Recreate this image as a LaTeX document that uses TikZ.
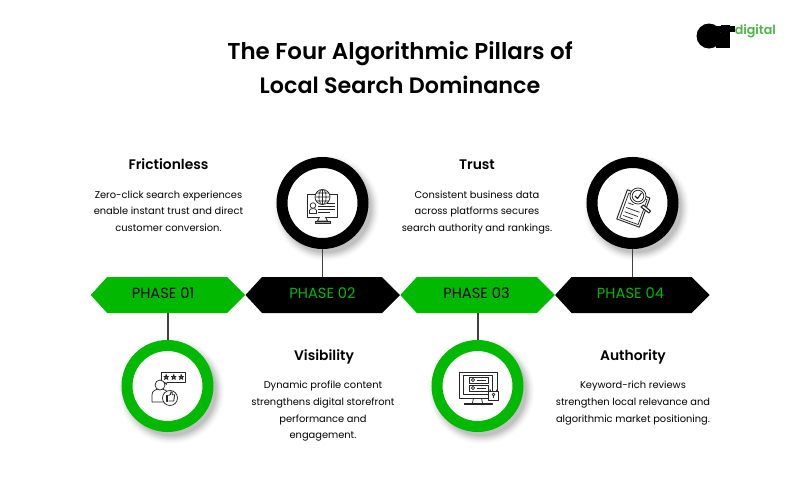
\documentclass[tikz,border=0pt]{standalone}
\usepackage{fontspec}
\setmainfont{Poppins}
\newfontfamily\semi{Poppins SemiBold}
\newfontfamily\med{Poppins Medium}
\usetikzlibrary{calc}
\definecolor{gA}{HTML}{00B900}
\definecolor{gB}{HTML}{4DB848}
\tikzset{
 x=0.75pt,y=-0.75pt,
 phasetxt/.style={font=\fontsize{11pt}{12pt}\selectfont,inner sep=0pt,anchor=center},
 headtxt/.style={font=\semi\fontsize{10.4pt}{12pt}\selectfont,inner sep=0pt,anchor=base},
 bodytxt/.style={font=\fontsize{7.4pt}{12.5pt}\selectfont,align=center,inner sep=0pt,anchor=north},
 titletxt/.style={font=\semi\fontsize{17.2pt}{25pt}\selectfont,inner sep=0pt,anchor=center},
 stem/.style={draw=black!75,line width=1.4pt},
 ico/.style={draw=black!85,line width=0.55pt,fill=white,line join=round},
 icl/.style={draw=black!85,line width=0.55pt,line join=round},
 ring/.style={circle,minimum size=0.75pt*81,line width=0.75pt*11,fill=white,inner sep=0pt}
}
\newcommand{\softshadow}[1]{%
 \foreach \r/\o in {53/.012,52/.015,51/.02,50/.025,49/.03,48/.03,47/.035,46/.04,45/.05}{
  \fill[black,opacity=\o] ($(#1)+(4,5)$) circle[radius=\r];}}
\newcommand{\hexshape}[3]{%
 \fill[#3] (#1,295) -- (#1+16.5,277) -- (#1+136.5,277) -- (#1+154.5,295) -- (#1+136.5,313) -- (#1+16.5,313) -- cycle;}
\begin{document}
\begin{tikzpicture}
\useasboundingbox (0,0) rectangle (800,500);
\fill[white] (0,0) rectangle (800,500);
\node[titletxt] (title1) at (400,54) {The Four Algorithmic Pillars of};
\node[titletxt,font=\semi\fontsize{16.7pt}{25pt}\selectfont] (title2) at (400,85) {Local Search Dominance};
% logo
\fill[black] (709,36) ellipse[x radius=12.5,y radius=12.5];
\fill[black] (721,25) rectangle (730,47.5);
\fill[black] (716,26) rectangle (735,32);
\fill[black] (716,40) rectangle (730,48);
\node[font=\semi\fontsize{9.5pt}{12pt}\selectfont,text=gB,inner sep=0pt,anchor=west] (logo) at (734.5,31) {digital};
% shadows
\coordinate (c1) at (167.5,386);
\coordinate (c2) at (322.5,203);
\coordinate (c3) at (477.5,386);
\coordinate (c4) at (632.5,203);
\softshadow{c1}\softshadow{c2}\softshadow{c3}\softshadow{c4}
% hexagons
\hexshape{90.7}{p1}{gA}
\hexshape{245.5}{p2}{black}
\hexshape{400.3}{p3}{gA}
\hexshape{555.1}{p4}{black}
\node[phasetxt,text=black] (l1) at (163,293) {PHASE 01};
\node[phasetxt,text=gA] (l2) at (322.5,293) {PHASE 02};
\node[phasetxt,text=black] (l3) at (476.5,293) {PHASE 03};
\node[phasetxt,text=gA] (l4) at (630.5,293) {PHASE 04};
% stems
\coordinate (s1) at (168.3,313);
\coordinate (s2) at (322.5,277);
\coordinate (s3) at (478.3,313);
\coordinate (s4) at (632.5,277);
\draw[stem] (s1) -- (168.3,345);
\draw[stem] (s2) -- (322.5,245);
\draw[stem] (s3) -- (478.3,345);
\draw[stem] (s4) -- (632.5,245);
% circles
\node[ring,draw=gA] (n1) at (c1) {};
\node[ring,draw=black] (n2) at (c2) {};
\node[ring,draw=gA] (n3) at (c3) {};
\node[ring,draw=black] (n4) at (c4) {};
% text
\node[headtxt] (h1) at (168.5,169) {Frictionless};
\node[headtxt] (h2) at (324,360) {Visibility};
\node[headtxt] (h3) at (477,169) {Trust};
\node[headtxt] (h4) at (633,360) {Authority};
\node[bodytxt] (b1) at (168.5,190.5) {Zero-click search experiences\\enable instant trust and direct\\customer conversion.};
\node[bodytxt] (b2) at (323,381) {Dynamic profile content\\strengthens digital storefront\\performance and\\engagement.};
\node[bodytxt] (b3) at (477,190.5) {Consistent business data\\across platforms secures\\search authority and rankings.};
\node[bodytxt] (b4) at (633,381) {Keyword-rich reviews\\strengthen local relevance and\\algorithmic market positioning.};
% icon 1: person, rating bubble, thumb
\begin{scope}[shift={(c1)}]
\draw[ico] (-6.5,-14) rectangle (17.5,-4);
\foreach \sx in {-3,4.5,12}
 \draw[draw=black!85,line width=.55pt,line join=round] (\sx,-6.5) -- (\sx+1.7,-11.5) -- (\sx+3.4,-6.5) -- (\sx-.6,-9.6) -- (\sx+4,-9.6) -- cycle;
\draw[ico] (-15.5,16) -- (-15.5,9) .. controls (-15.5,5) and (-12,3) .. (-7.5,3) .. controls (-3,3) and (1,5) .. (1,9) -- (1,16) -- cycle;
\draw[ico] (-7.5,-1) circle[radius=5];
\draw[ico] (-3,-4) -- (-1,-1.5) -- (-.5,-4);
\draw[ico] (2.5,12) circle[radius=7.5];
\draw[icl,line width=.75pt] (-1,9.5) rectangle (.3,15);
\draw[icl,line width=.65pt] (1,9.5) -- (3,8.5) -- (3.5,5.8) -- (4.8,6.2) -- (4.8,8.8) -- (7.2,8.8) -- (6.2,15) -- (1,15);
\end{scope}
% icon 2: monitor, globe, person
\begin{scope}[shift={(c2)}]
\draw[ico] (-15.5,-9) rectangle (14.5,14);
\draw[ico] (-3,14) -- (-5,18) -- (5,18) -- (3,14);
\draw[ico,fill=black!35] (-7,18) rectangle (8,20);
\draw[ico] (0,-6) circle[radius=7.5];
\draw[icl,line width=.45pt] (0,-6) ellipse[x radius=3.6,y radius=7.5] (-7.5,-6) -- (7.5,-6) (0,-13.5) -- (0,1.5) (-6.5,-10) -- (6.5,-10) (-6.5,-2) -- (6.5,-2);
\draw[ico] (-13,10.5) -- (-13,7.5) .. controls (-13,5) and (-6,5) .. (-6,7.5) -- (-6,10.5) -- cycle;
\draw[ico] (-9.5,2.5) circle[radius=2.8];
\draw[icl] (-4.5,3) -- (12,3) (-4.5,6) -- (12,6) (-4.5,9) -- (7,9) (4,0) -- (12,0);
\end{scope}
% icon 3: monitor, lock
\begin{scope}[shift={(c3)}]
\draw[ico] (-18.5,-14) rectangle (19.5,12);
\draw[ico] (-14,-10.5) rectangle (15,8);
\draw[ico] (-8.5,-9) rectangle (10.5,-3);
\draw[ico] (-8.5,-1) rectangle (10.5,5);
\draw[ico] (-4.5,-6) circle[radius=1.7];
\draw[ico] (-4.5,2) circle[radius=1.7];
\draw[icl,line width=.65pt] (-1,-6) -- (8,-6) (-1,2) -- (8,2);
\draw[icl] (-4,12) -- (-5,17) (4,12) -- (5,17);
\draw[ico] (-13.5,17) rectangle (14.5,18.5);
\draw[ico] (12.5,5) -- (12.5,3.5) arc[start angle=180,end angle=0,radius=3.5] -- (19.5,5);
\draw[ico] (11,5) rectangle (21,14);
\draw[ico] (16,8.5) circle[radius=1.4];
\draw[icl,line width=.65pt] (16,10) -- (16,12);
\end{scope}
% icon 4: clipboard, magnifier
\begin{scope}[shift={(c4)}]
\begin{scope}[shift={(1,5)},rotate=-20]
\draw[ico,line width=.7pt] (-12,-15) rectangle (12,16);
\draw[ico] (-9.5,-12.5) rectangle (10,14);
\draw[ico,fill=black!60] (-5,-17) rectangle (1,-13);
\draw[icl] (-7,-3) -- (-1,-3) (-7,2) -- (7,2) (-7,6.5) -- (7,6.5) (-7,10.5) -- (3,10.5);
\end{scope}
\draw[ico,line width=.8pt] (11,2) -- (18,8) -- (16.5,10) -- (8.5,4) -- cycle;
\draw[ico] (5.5,-7) circle[radius=8];
\draw[ico] (5.5,-7) circle[radius=5.8];
\draw[icl,line width=.85pt] (2.5,-7) -- (5,-4.5) -- (9,-10);
\end{scope}
\end{tikzpicture}
\end{document}
